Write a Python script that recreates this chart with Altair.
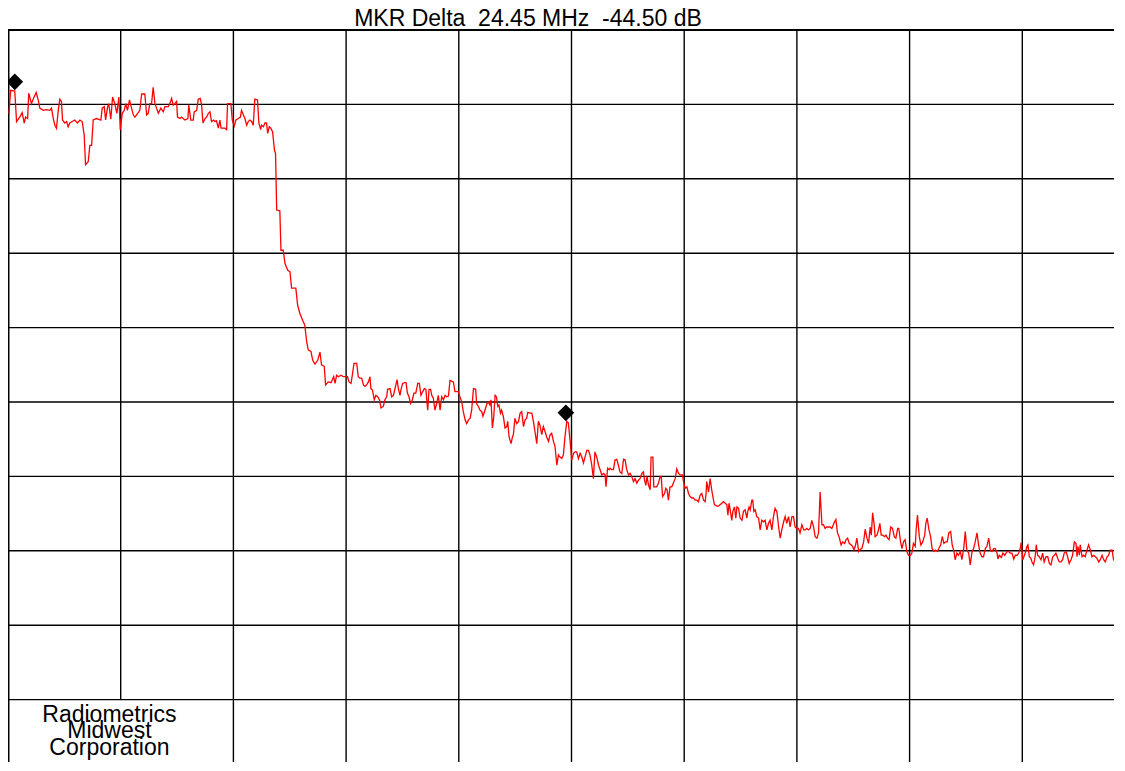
import altair as alt
import pandas as pd

NB = "\u00a0"
TITLE = "MKR Delta" + NB + " 24.45 MHz" + NB + " -44.50 dB"
COMPANY = "Radiometrics\nMidwest\nCorporation"
COMPANY_FREQ = 4.5
COMPANY_LEVEL = -93.0

# spectrum trace: (frequency offset in MHz, level in dB)
trace = [
    (0.04, -11.2), (0.12, -8.1), (0.30, -8.2), (0.38, -12.3), (0.52, -11.7), (0.63, -11.1), (0.72, -12.5), (0.78, -11.7),
    (0.87, -11.9), (0.92, -8.5), (1.04, -9.9), (1.13, -9.2), (1.25, -8.4), (1.34, -9.4), (1.41, -10.5), (1.56, -10.8),
    (1.71, -10.7), (1.86, -10.8), (1.93, -10.5), (2.01, -11.9), (2.08, -12.8), (2.15, -13.2), (2.23, -10.8), (2.30, -9.3),
    (2.37, -9.6), (2.42, -12.1), (2.52, -12.5), (2.60, -12.3), (2.67, -13.0), (2.74, -12.5), (2.85, -12.3), (2.96, -12.1),
    (3.08, -12.5), (3.19, -12.1), (3.29, -12.3), (3.38, -14.1), (3.44, -18.1), (3.56, -17.7), (3.63, -15.5), (3.71, -15.5),
    (3.78, -12.1), (3.93, -11.9), (4.03, -12.0), (4.12, -12.1), (4.18, -10.5), (4.27, -10.3), (4.33, -12.1), (4.42, -10.3),
    (4.47, -9.9), (4.56, -12.0), (4.64, -9.0), (4.74, -9.9), (4.83, -11.2), (4.92, -9.0), (4.98, -13.4), (5.07, -11.2),
    (5.16, -10.8), (5.22, -9.9), (5.30, -10.8), (5.39, -9.4), (5.48, -10.5), (5.56, -11.4), (5.63, -11.7), (5.75, -11.2),
    (5.85, -10.8), (5.93, -8.6), (6.07, -8.6), (6.15, -11.4), (6.22, -11.2), (6.29, -9.9), (6.37, -9.9), (6.44, -7.7),
    (6.52, -9.9), (6.59, -10.5), (6.67, -11.2), (6.78, -10.5), (6.89, -11.0), (6.96, -10.3), (7.11, -10.3), (7.18, -9.9),
    (7.26, -9.2), (7.33, -10.1), (7.40, -9.9), (7.48, -9.6), (7.52, -11.7), (7.63, -11.9), (7.70, -11.7), (7.85, -12.1),
    (7.98, -11.9), (8.02, -10.1), (8.11, -12.1), (8.22, -12.1), (8.26, -11.0), (8.37, -10.8), (8.44, -9.3), (8.53, -9.2),
    (8.59, -10.1), (8.65, -12.5), (8.74, -11.9), (8.81, -11.7), (8.89, -11.2), (8.96, -11.0), (9.03, -12.3), (9.12, -12.1),
    (9.18, -12.3), (9.25, -12.2), (9.33, -13.2), (9.40, -12.1), (9.45, -13.2), (9.55, -13.2), (9.62, -13.2), (9.70, -13.4),
    (9.74, -9.9), (9.89, -9.9), (9.95, -12.1), (10.04, -12.9), (10.11, -12.1), (10.22, -11.9), (10.31, -11.7), (10.36, -10.8),
    (10.44, -11.4), (10.51, -11.9), (10.59, -12.8), (10.66, -12.3), (10.73, -12.1), (10.81, -12.3), (10.88, -12.8), (10.95, -9.3),
    (11.07, -9.4), (11.13, -12.5), (11.21, -13.4), (11.25, -12.8), (11.33, -13.0), (11.40, -12.5), (11.47, -12.5), (11.52, -13.9),
    (11.59, -13.0), (11.66, -13.2), (11.74, -13.7), (11.82, -16.1), (11.87, -16.6), (11.92, -24.2), (12.06, -24.3), (12.11, -29.6),
    (12.21, -29.6), (12.29, -31.4), (12.41, -32.3), (12.51, -32.5), (12.58, -34.7), (12.77, -34.7), (12.85, -37.0), (12.95, -38.1),
    (13.10, -39.2), (13.17, -39.7), (13.25, -41.9), (13.32, -43.0), (13.44, -43.2), (13.52, -44.4), (13.62, -44.9), (13.74, -44.4),
    (13.84, -43.3), (13.91, -45.0), (14.03, -45.2), (14.09, -47.7), (14.21, -47.3), (14.33, -47.4), (14.39, -47.0), (14.45, -46.6),
    (14.51, -47.5), (14.58, -46.4), (14.66, -46.6), (14.77, -46.4), (14.88, -46.6), (14.98, -46.6), (15.06, -46.6), (15.13, -47.3),
    (15.22, -47.5), (15.29, -46.1), (15.35, -44.8), (15.47, -44.8), (15.54, -46.6), (15.61, -46.8), (15.69, -46.8), (15.77, -47.7),
    (15.84, -47.9), (15.91, -47.7), (15.99, -47.3), (16.06, -46.6), (16.10, -48.2), (16.17, -48.4), (16.25, -49.7), (16.32, -49.1),
    (16.40, -49.3), (16.48, -49.7), (16.55, -50.8), (16.65, -50.6), (16.72, -49.7), (16.80, -49.3), (16.84, -48.3), (16.95, -48.2),
    (17.02, -49.3), (17.10, -49.1), (17.17, -48.2), (17.26, -47.0), (17.32, -48.2), (17.39, -49.1), (17.43, -48.4), (17.51, -47.5),
    (17.59, -47.4), (17.66, -47.4), (17.72, -48.8), (17.79, -49.3), (17.86, -50.2), (17.94, -49.7), (18.01, -48.8), (18.09, -48.8),
    (18.18, -47.5), (18.25, -47.5), (18.32, -49.1), (18.40, -48.6), (18.47, -48.2), (18.54, -48.3), (18.62, -51.1), (18.68, -48.3),
    (18.75, -48.3), (18.80, -49.1), (18.87, -49.5), (18.94, -51.1), (19.02, -50.2), (19.09, -49.1), (19.17, -51.1), (19.24, -49.3),
    (19.32, -49.7), (19.39, -49.1), (19.46, -49.3), (19.54, -49.2), (19.61, -47.1), (19.76, -47.3), (19.83, -48.6), (19.98, -48.6),
    (20.05, -49.3), (20.13, -50.0), (20.20, -51.3), (20.28, -52.4), (20.35, -52.9), (20.43, -52.4), (20.50, -52.2), (20.57, -51.1),
    (20.65, -48.2), (20.75, -48.3), (20.79, -50.2), (20.87, -50.6), (20.94, -51.1), (21.02, -51.3), (21.07, -51.9), (21.14, -51.3),
    (21.19, -50.8), (21.25, -50.2), (21.31, -50.0), (21.38, -50.4), (21.43, -49.7), (21.49, -53.5), (21.55, -52.0), (21.61, -49.1),
    (21.67, -49.3), (21.73, -50.6), (21.78, -50.4), (21.85, -51.5), (21.90, -51.1), (21.98, -52.0), (22.05, -53.5), (22.13, -53.3),
    (22.17, -52.6), (22.23, -54.7), (22.32, -55.6), (22.38, -54.7), (22.42, -54.4), (22.49, -52.2), (22.57, -52.9), (22.65, -52.6),
    (22.72, -51.5), (22.79, -51.3), (22.87, -53.3), (22.94, -52.4), (23.01, -52.2), (23.06, -51.4), (23.16, -51.5), (23.24, -51.5),
    (23.31, -52.6), (23.38, -54.0), (23.46, -55.6), (23.53, -52.6), (23.60, -53.1), (23.68, -54.4), (23.75, -53.3), (23.83, -54.0),
    (23.90, -54.7), (23.98, -55.3), (24.05, -54.4), (24.12, -54.2), (24.20, -55.3), (24.27, -56.0), (24.35, -58.5), (24.42, -57.1),
    (24.49, -57.4), (24.57, -57.6), (24.64, -57.1), (24.71, -54.7), (24.79, -52.6), (24.86, -52.8), (24.94, -55.3), (25.01, -57.8),
    (25.09, -56.9), (25.16, -56.7), (25.23, -56.7), (25.31, -57.6), (25.38, -56.9), (25.46, -57.4), (25.53, -58.2), (25.60, -57.4),
    (25.68, -56.5), (25.75, -56.5), (25.82, -57.1), (25.90, -58.5), (25.97, -60.3), (26.04, -56.7), (26.12, -57.4), (26.20, -58.5),
    (26.27, -59.1), (26.34, -59.8), (26.42, -59.6), (26.49, -59.8), (26.53, -61.4), (26.60, -58.9), (26.67, -59.1), (26.71, -58.9),
    (26.79, -59.1), (26.86, -59.1), (26.93, -57.8), (27.01, -57.7), (27.08, -58.5), (27.15, -59.4), (27.23, -59.6), (27.31, -57.7),
    (27.38, -57.8), (27.45, -59.1), (27.53, -59.8), (27.60, -59.6), (27.67, -60.0), (27.75, -60.7), (27.82, -60.3), (27.90, -60.9),
    (27.97, -60.5), (28.04, -60.3), (28.12, -59.6), (28.19, -59.4), (28.24, -60.5), (28.30, -61.2), (28.35, -60.0), (28.42, -61.2),
    (28.49, -61.8), (28.53, -57.4), (28.61, -57.4), (28.65, -61.4), (28.78, -61.4), (28.86, -60.9), (28.93, -60.0), (28.98, -60.0),
    (29.04, -62.7), (29.13, -62.3), (29.18, -61.6), (29.24, -61.8), (29.30, -63.2), (29.37, -61.4), (29.45, -61.4), (29.52, -60.9),
    (29.60, -60.3), (29.67, -59.0), (29.75, -59.6), (29.82, -59.8), (29.92, -59.8), (29.97, -60.7), (30.04, -61.6), (30.12, -61.4),
    (30.19, -62.3), (30.26, -62.7), (30.34, -62.9), (30.41, -62.9), (30.48, -63.2), (30.56, -63.2), (30.63, -63.4), (30.71, -62.5),
    (30.78, -62.3), (30.86, -63.2), (30.93, -63.4), (30.97, -62.3), (31.00, -60.7), (31.08, -62.1), (31.15, -60.3), (31.22, -61.8),
    (31.27, -62.7), (31.34, -63.8), (31.45, -64.0), (31.52, -64.0), (31.59, -63.8), (31.67, -63.6), (31.74, -63.4), (31.82, -63.6),
    (31.89, -63.8), (31.94, -65.2), (31.99, -63.6), (32.04, -64.5), (32.11, -65.9), (32.16, -64.7), (32.23, -64.1), (32.29, -65.6),
    (32.34, -64.1), (32.41, -64.3), (32.48, -65.6), (32.56, -65.9), (32.63, -64.7), (32.70, -64.5), (32.78, -65.6), (32.82, -64.7),
    (32.88, -64.1), (32.93, -64.5), (33.00, -63.2), (33.04, -63.2), (33.09, -64.7), (33.15, -64.5), (33.22, -65.4), (33.30, -65.6),
    (33.37, -67.2), (33.44, -65.9), (33.52, -66.1), (33.59, -65.9), (33.67, -67.2), (33.74, -66.3), (33.81, -65.9), (33.89, -67.2),
    (33.96, -65.4), (34.03, -64.3), (34.11, -64.7), (34.19, -66.8), (34.26, -68.3), (34.33, -67.2), (34.41, -66.1), (34.48, -65.4),
    (34.55, -66.3), (34.63, -65.4), (34.70, -66.8), (34.78, -65.4), (34.85, -65.4), (34.92, -66.8), (35.00, -67.0), (35.07, -67.0),
    (35.14, -67.6), (35.22, -66.5), (35.30, -67.2), (35.37, -67.2), (35.44, -67.0), (35.52, -67.2), (35.59, -67.0), (35.66, -65.9),
    (35.74, -66.8), (35.81, -68.1), (35.89, -68.3), (35.96, -67.6), (36.03, -62.1), (36.11, -66.5), (36.18, -66.5), (36.25, -67.0),
    (36.32, -66.8), (36.40, -66.8), (36.47, -66.8), (36.55, -67.0), (36.67, -66.1), (36.73, -65.8), (36.80, -67.6), (36.87, -68.1),
    (36.96, -69.2), (37.03, -68.8), (37.12, -69.0), (37.18, -68.5), (37.25, -68.3), (37.32, -69.0), (37.41, -69.2), (37.47, -69.4),
    (37.53, -69.9), (37.59, -69.4), (37.66, -68.3), (37.74, -70.1), (37.81, -69.8), (37.88, -69.7), (37.96, -68.8), (38.03, -67.1),
    (38.11, -68.3), (38.18, -69.0), (38.25, -66.8), (38.30, -67.9), (38.36, -64.9), (38.43, -66.5), (38.47, -68.1), (38.55, -67.9),
    (38.62, -67.2), (38.68, -66.3), (38.74, -67.9), (38.81, -67.9), (38.89, -68.1), (38.95, -67.9), (39.02, -68.3), (39.09, -68.5),
    (39.16, -66.8), (39.24, -67.0), (39.32, -68.1), (39.39, -68.3), (39.47, -67.0), (39.52, -67.0), (39.60, -68.8), (39.66, -69.7),
    (39.73, -68.8), (39.80, -68.5), (39.88, -70.1), (39.95, -70.6), (40.02, -70.7), (40.10, -70.3), (40.17, -69.0), (40.25, -69.4),
    (40.29, -67.2), (40.35, -65.2), (40.43, -68.1), (40.50, -69.2), (40.58, -68.8), (40.67, -67.9), (40.72, -66.3), (40.78, -65.6),
    (40.86, -67.2), (40.93, -68.1), (41.00, -69.7), (41.08, -70.1), (41.15, -69.9), (41.23, -70.1), (41.30, -69.7), (41.38, -69.2),
    (41.45, -68.1), (41.52, -69.0), (41.60, -68.8), (41.67, -68.8), (41.74, -67.6), (41.82, -67.4), (41.89, -69.2), (41.97, -70.1),
    (42.02, -71.2), (42.10, -70.3), (42.17, -70.6), (42.25, -70.1), (42.32, -71.2), (42.40, -69.7), (42.47, -67.4), (42.54, -69.9),
    (42.62, -70.3), (42.69, -71.9), (42.77, -70.1), (42.84, -69.7), (42.91, -68.8), (42.99, -67.6), (43.06, -69.2), (43.13, -70.3),
    (43.21, -70.8), (43.28, -70.8), (43.36, -69.7), (43.43, -69.4), (43.51, -68.3), (43.58, -69.9), (43.65, -70.1), (43.73, -69.7),
    (43.80, -69.7), (43.88, -70.3), (43.92, -71.1), (43.98, -70.6), (44.07, -70.9), (44.14, -70.3), (44.22, -70.6), (44.32, -70.1),
    (44.40, -70.1), (44.46, -70.3), (44.54, -70.3), (44.62, -71.1), (44.69, -70.6), (44.77, -70.6), (44.84, -70.3), (44.91, -69.7),
    (44.95, -68.9), (45.02, -71.2), (45.07, -70.8), (45.13, -70.3), (45.21, -69.4), (45.25, -69.2), (45.31, -70.8), (45.38, -71.0),
    (45.43, -71.5), (45.50, -71.9), (45.57, -70.8), (45.62, -69.2), (45.68, -70.6), (45.75, -70.8), (45.83, -71.2), (45.90, -70.3),
    (45.97, -71.5), (46.05, -70.8), (46.13, -70.8), (46.20, -71.7), (46.27, -71.9), (46.35, -70.8), (46.42, -70.6), (46.49, -70.3),
    (46.57, -71.0), (46.64, -71.5), (46.72, -71.5), (46.79, -71.2), (46.86, -70.3), (46.94, -70.1), (47.01, -70.8), (47.08, -71.7),
    (47.16, -71.2), (47.23, -70.6), (47.31, -68.8), (47.38, -69.0), (47.43, -70.8), (47.47, -69.4), (47.53, -70.6), (47.57, -69.2),
    (47.65, -70.8), (47.72, -70.6), (47.79, -70.8), (47.87, -69.9), (47.94, -69.2), (48.02, -69.9), (48.09, -70.8), (48.17, -70.6),
    (48.24, -70.8), (48.31, -71.0), (48.39, -71.5), (48.46, -71.2), (48.54, -70.6), (48.61, -71.2), (48.68, -71.5), (48.76, -70.8),
    (48.83, -70.6), (48.90, -69.9), (48.98, -69.9), (49.05, -71.2), (49.13, -71.5), (49.20, -71.5), (49.28, -71.7), (49.35, -71.9),
    (49.43, -71.0), (49.50, -71.5), (49.57, -72.6), (49.65, -72.8), (50.00, -73.0),
]
freq_mhz = [p[0] for p in trace]
level_db = [p[1] for p in trace]

marker_freq = [0.30, 24.75]
marker_level = [-8.1, -52.6]

# graticule: 5 MHz / div, 10 dB / div
grid_freq = [0, 5, 10, 15, 20, 25, 30, 35, 40, 45]
grid_level = [0, -10, -20, -30, -40, -50, -60, -70, -80, -90]

X_MIN, X_MAX = 0.0, 50.0
Y_MIN, Y_MAX = -97.58, 0.0
Y_FLOOR = -100.0
LABEL_BOX = {"f0": 0.0, "f1": 10.0, "a0": Y_FLOOR, "a1": -90.0}

PLOT_W = 1127          # 5 MHz per 112.7 px; the far right of the span falls off the page
SVG_W = 1106

FONT = "Liberation Sans"

xs = alt.Scale(domain=[X_MIN, X_MAX], nice=False, zero=False)
ys = alt.Scale(domain=[Y_MIN, Y_MAX], nice=False, zero=False)

trace_df = pd.DataFrame({"f": freq_mhz, "a": level_db})
marker_df = pd.DataFrame({"f": marker_freq, "a": marker_level})
vgrid_df = pd.DataFrame({
    "f": [float(g) for g in grid_freq],
    "a_top": [Y_MAX] * len(grid_freq),
    "a_bot": [LABEL_BOX["a1"] if (LABEL_BOX["f0"] < g < LABEL_BOX["f1"]) else Y_FLOOR for g in grid_freq],
    "w": [3.0 if g == 0 else 1.4 for g in grid_freq],
})
hgrid_df = pd.DataFrame({
    "a": [float(g) for g in grid_level],
    "f0": [X_MIN] * len(grid_level),
    "f1": [X_MAX] * len(grid_level),
    "w": [2.0 if g == 0 else 1.4 for g in grid_level],
})
box_df = pd.DataFrame([LABEL_BOX])
company_df = pd.DataFrame({"f": [COMPANY_FREQ], "a": [COMPANY_LEVEL], "t": [COMPANY]})
title_df = pd.DataFrame({"t": [TITLE]})

box = alt.Chart(box_df).mark_rect(color="white", strokeWidth=0).encode(
    x=alt.X("f0:Q", scale=xs, axis=None), x2="f1:Q",
    y=alt.Y("a0:Q", scale=ys, axis=None), y2="a1:Q",
)
vgrid = alt.Chart(vgrid_df).mark_rule(color="black").encode(
    x=alt.X("f:Q", scale=xs, axis=None),
    y=alt.Y("a_top:Q", scale=ys, axis=None), y2="a_bot:Q",
    strokeWidth=alt.StrokeWidth("w:Q", scale=None),
)
hgrid = alt.Chart(hgrid_df).mark_rule(color="black").encode(
    y=alt.Y("a:Q", scale=ys, axis=None),
    x=alt.X("f0:Q", scale=xs, axis=None), x2="f1:Q",
    strokeWidth=alt.StrokeWidth("w:Q", scale=None),
)
line = alt.Chart(trace_df).mark_line(color="#ff0000", strokeWidth=1.3).encode(
    x=alt.X("f:Q", scale=xs, axis=None),
    y=alt.Y("a:Q", scale=ys, axis=None),
    order=alt.Order("f:Q"),
)
markers = alt.Chart(marker_df).mark_point(
    shape="diamond", filled=True, size=280, color="black", opacity=1, yOffset=-8.5
).encode(
    x=alt.X("f:Q", scale=xs, axis=None),
    y=alt.Y("a:Q", scale=ys, axis=None),
)
company = alt.Chart(company_df).mark_text(
    font=FONT, fontSize=23, color="black", align="center", baseline="alphabetic",
    lineBreak="\n", lineHeight=16.5,
).encode(
    x=alt.X("f:Q", scale=xs, axis=None),
    y=alt.Y("a:Q", scale=ys, axis=None),
    text="t:N",
)
title = alt.Chart(title_df).mark_text(
    font=FONT, fontSize=23, color="black", align="center", baseline="alphabetic"
).encode(
    x=alt.value(520), y=alt.value(-4.5), text="t:N",
)

chart = alt.layer(box, vgrid, hgrid, line, markers, company, title).properties(
    width=PLOT_W,
    height=726,
    padding={"left": 0, "top": 22, "right": SVG_W - PLOT_W, "bottom": 6},
    autosize=alt.AutoSizeParams(type="none"),
).configure_view(stroke="transparent", strokeWidth=0)

chart.save("out.html", embed_options={"renderer": "svg", "actions": False})
